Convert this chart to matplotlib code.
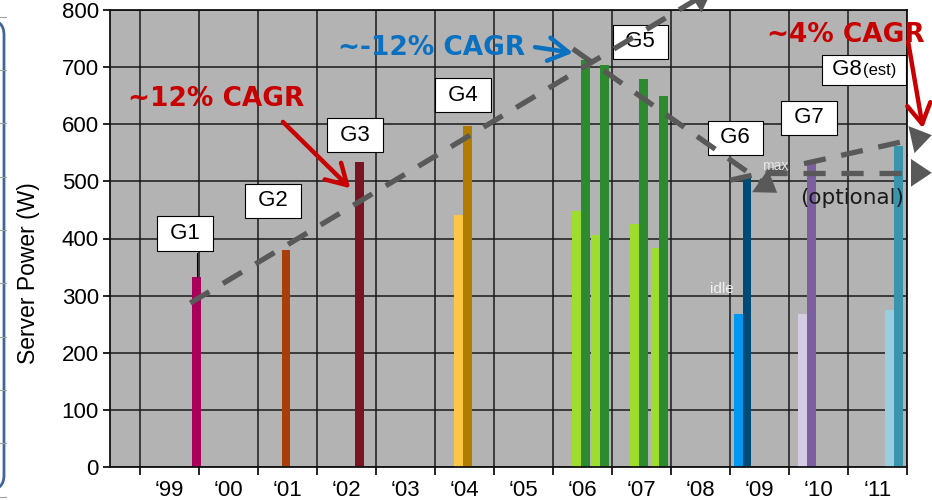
import numpy as np
import matplotlib.pyplot as plt
from matplotlib.patches import FancyBboxPatch
from matplotlib.lines import Line2D
from matplotlib.offsetbox import TextArea, HPacker, AnnotationBbox

plt.rcParams['font.family'] = ['Liberation Sans', 'DejaVu Sans']

### data ###
years = list(range(1999, 2012))
year_labels = ["\u201899", "\u201800", "\u201801", "\u201802", "\u201803", "\u201804", "\u201805",
               "\u201806", "\u201807", "\u201808", "\u201809", "\u201810", "\u201811"]

# server release time (year) and power (W)
bar_x = [1999.97, 2001.48, 2002.73, 2004.40, 2004.55,
         2006.40, 2006.55, 2006.73, 2006.88,
         2007.38, 2007.54, 2007.74, 2007.88,
         2009.15, 2009.29, 2010.23, 2010.38, 2011.70, 2011.86]
bar_power = [333, 380, 534, 441, 597,
             448, 712, 406, 704,
             425, 679, 384, 650,
             268, 506, 268, 532, 275, 562]
bar_colors = ['#a8005a', '#a83e08', '#7b1422', '#ffc544', '#b07d00',
              '#9edc2e', '#2e8a2e', '#9edc2e', '#2e8a2e',
              '#9edc2e', '#2e8a2e', '#9edc2e', '#2e8a2e',
              '#0099f2', '#004a76', '#d4cce2', '#7c5f9e', '#98cfdf', '#3a94ad']

gen_names = ["G1", "G2", "G3", "G4", "G5", "G6", "G7"]
gen_x = [1999.77, 2001.26, 2002.65, 2004.48, 2007.48, 2009.09, 2010.34]
gen_y = [409, 466, 581, 651, 744, 576, 611]

# dashed trend arrows: start -> tip
trend_x0 = [1999.86, 2006.34, 2009.00, 2009.60]
trend_y0 = [287, 732, 502, 515]
trend_x1 = [2008.70, 2009.80, 2012.42, 2012.42]
trend_y1 = [835, 480, 581, 515]

fig = plt.figure(figsize=(9.32, 5), dpi=100)
ax = fig.add_axes([110/932, 33/500, 797/932, 457/500])
ax.set_facecolor('#b3b3b3')
ax.set_xlim(1998.5, 2012)
ax.set_ylim(0, 800)

ax.set_xticks(range(1999, 2013))
ax.set_xticklabels([])
ax.set_xticks([y + 0.5 for y in years], minor=True)
ax.set_xticklabels(year_labels, minor=True)
ax.tick_params(axis='x', which='major', length=6, width=1.2)
ax.tick_params(axis='x', which='minor', length=0, labelsize=16, pad=9)
ax.set_yticks(range(0, 801, 100))
ax.tick_params(axis='y', length=5, width=1.2, labelsize=16, pad=3)
ax.grid(True, which='major', color='#1a1a1a', lw=1.1)
ax.set_axisbelow(True)
for s in ax.spines.values():
    s.set_linewidth(1.3)
    s.set_color('#111111')

ax.set_ylabel('Server Power (W)', fontsize=16.5)
ax.yaxis.set_label_coords(-0.088, 0.425)

ax.bar(bar_x, bar_power, width=0.15, color=bar_colors, zorder=2)

# leader line G1
ax.plot([1999.98, 1999.98], [333, 374], color='black', lw=0.8, zorder=2)

for name, x, y in zip(gen_names, gen_x, gen_y):
    ax.text(x, y, f" {name} ", fontsize=16, ha='center', va='center', zorder=4,
            bbox=dict(boxstyle='square,pad=0.3', fc='white', ec='black', lw=0.8))

g8 = HPacker(children=[TextArea(" G8", textprops=dict(size=16)),
                       TextArea("(est) ", textprops=dict(size=12))],
             align='baseline', pad=0, sep=1)
ab = AnnotationBbox(g8, (2011.27, 695), frameon=True, pad=0.55, zorder=4,
                    bboxprops=dict(boxstyle='square', fc='white', ec='black', lw=0.8))
ax.add_artist(ab)

# dashed trend arrows
head_px = 21
for x0, y0, x1, y1 in zip(trend_x0, trend_y0, trend_x1, trend_y1):
    p0 = ax.transData.transform((x0, y0))
    p1 = ax.transData.transform((x1, y1))
    d = (p1 - p0) / np.hypot(*(p1 - p0))
    bx, by = ax.transData.inverted().transform(p1 - d * head_px * 0.9)
    sx, sy = ax.transData.inverted().transform(p1 - d * head_px * 2)
    ax.plot([x0, bx], [y0, by], color='#595959', lw=3.8, dashes=(4.2, 3.0),
            solid_capstyle='butt', dash_capstyle='butt', zorder=5, clip_on=False)
    ax.annotate('', xy=(x1, y1), xytext=(sx, sy), annotation_clip=False, zorder=5,
                arrowprops=dict(arrowstyle='-|>,head_length=1.5,head_width=1.0',
                                color='#595959', lw=0, shrinkA=0, shrinkB=0,
                                mutation_scale=10))

# CAGR callouts
ax.text(2000.30, 644, '~12% CAGR', color='#c80000', fontsize=19, fontweight='heavy',
        family='DejaVu Sans', ha='center', va='center', zorder=6)
ax.annotate('', xy=(2002.57, 488), xytext=(2001.43, 604), zorder=6,
            arrowprops=dict(arrowstyle='->,head_length=1.2,head_width=0.7', color='#c80000',
                            lw=3.2, shrinkA=0, shrinkB=0, mutation_scale=12))
ax.text(2003.94, 733, '~-12% CAGR', color='#0a70c0', fontsize=19, fontweight='heavy',
        family='DejaVu Sans', ha='center', va='center', zorder=6)
ax.annotate('', xy=(2006.34, 725), xytext=(2005.70, 735), zorder=6,
            arrowprops=dict(arrowstyle='->,head_length=1.2,head_width=0.7', color='#0a70c0',
                            lw=3.2, shrinkA=0, shrinkB=0, mutation_scale=12))
ax.text(2010.97, 756, '~4% CAGR', color='#c80000', fontsize=19, fontweight='heavy',
        family='DejaVu Sans', ha='center', va='center', zorder=6)
ax.annotate('', xy=(2012.27, 593), xytext=(2012.02, 744), zorder=6, annotation_clip=False,
            arrowprops=dict(arrowstyle='->,head_length=1.2,head_width=0.7', color='#c80000',
                            lw=3.2, shrinkA=0, shrinkB=0, mutation_scale=12))

ax.text(2011.07, 471, '(optional)', fontsize=15.5, family='DejaVu Sans', color='#1a1a1a',
        ha='center', va='center', zorder=6)
ax.text(2009.76, 527, 'max', fontsize=10, color='#e6e6e6', ha='center', va='center', zorder=6)
ax.text(2008.87, 312, 'idle', fontsize=11, color='#f2f2f2', ha='center', va='center', zorder=4)

# slide frame remnant on the left
fig.add_artist(FancyBboxPatch((-1, 0.1), 1.04, 4.7, boxstyle='round,pad=0,rounding_size=0.15',
                              transform=fig.dpi_scale_trans, fill=False,
                              edgecolor='#41669b', lw=2))
for ty in [17, 70, 123, 177, 230, 283, 337, 390, 443, 497]:
    fig.add_artist(Line2D([0, 0.06], [(500 - ty) / 100] * 2, color='#a0a0a0', lw=0.8,
                          transform=fig.dpi_scale_trans))

fig.savefig('out.png', dpi=100)
